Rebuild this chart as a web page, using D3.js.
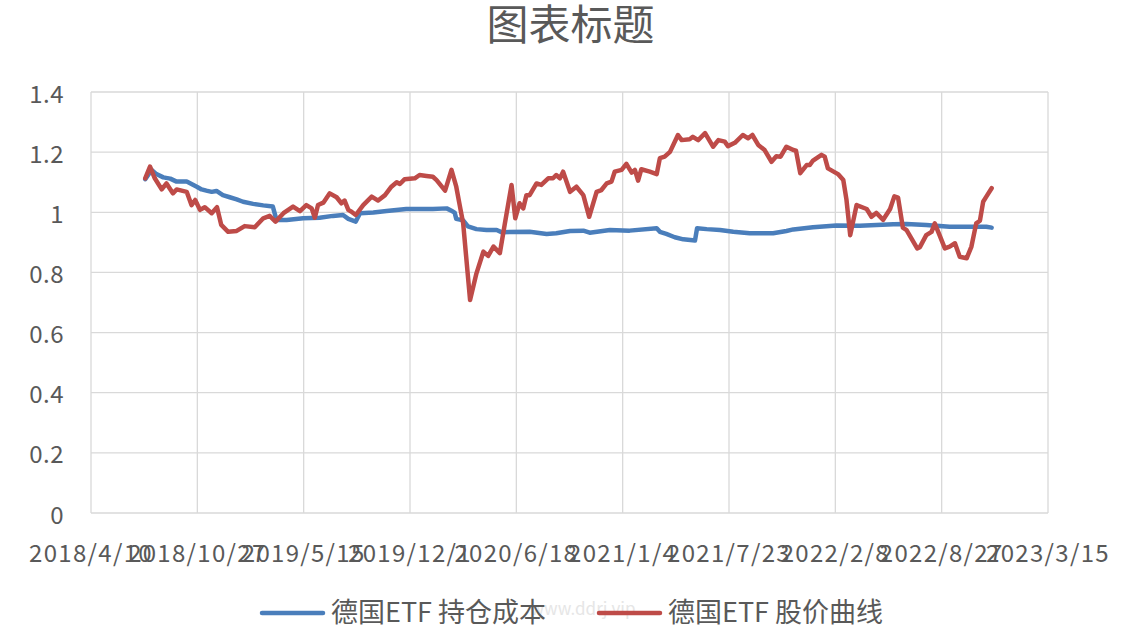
<!DOCTYPE html>
<html>
<head>
<meta charset="utf-8">
<script src="https://cdn.jsdelivr.net/npm/d3@7"></script>
<style>
  html, body { margin: 0; padding: 0; background: #fff; }
  svg { display: block; }
</style>
</head>
<body>
<svg id="chart" width="1142" height="629"></svg>
<script>
const title = "图表标题";
const seriesNames = ["德国ETF 持仓成本", "德国ETF 股价曲线"];
const xTickLabels = ["2018/4/10","2018/10/27","2019/5/15","2019/12/1","2020/6/18","2021/1/4","2021/7/23","2022/2/8","2022/8/27","2023/3/15"];
const yTickValues = [0, 0.2, 0.4, 0.6, 0.8, 1, 1.2, 1.4];

const costDates = ["2018-07-21","2018-08-02","2018-08-11","2018-08-24","2018-09-06","2018-09-18","2018-10-07","2018-10-26","2018-11-04","2018-11-13","2018-11-23","2018-12-02","2018-12-14","2018-12-27","2019-01-09","2019-01-21","2019-02-09","2019-02-28","2019-03-18","2019-03-25","2019-04-13","2019-05-14","2019-06-14","2019-07-09","2019-07-28","2019-08-07","2019-08-21","2019-08-29","2019-09-23","2019-10-18","2019-11-24","2020-01-13","2020-02-08","2020-02-17","2020-02-23","2020-02-26","2020-03-10","2020-03-19","2020-04-04","2020-04-23","2020-05-12","2020-05-21","2020-07-13","2020-08-14","2020-09-01","2020-09-27","2020-10-22","2020-11-03","2020-12-11","2021-01-17","2021-03-09","2021-03-15","2021-03-27","2021-04-12","2021-04-28","2021-05-20","2021-05-24","2021-06-11","2021-07-06","2021-07-31","2021-08-31","2021-10-14","2021-11-08","2021-11-21","2021-12-28","2022-02-10","2022-03-26","2022-05-28","2022-06-22","2022-07-29","2022-09-11","2022-11-19","2022-11-29"];
const costValues = [1.110,1.141,1.127,1.116,1.112,1.102,1.102,1.085,1.076,1.072,1.068,1.071,1.057,1.050,1.043,1.035,1.028,1.023,1.019,0.974,0.974,0.980,0.982,0.988,0.991,0.978,0.969,0.997,0.999,1.004,1.011,1.011,1.013,1.005,0.999,0.978,0.973,0.953,0.944,0.941,0.941,0.934,0.935,0.928,0.930,0.938,0.939,0.932,0.941,0.939,0.947,0.935,0.928,0.917,0.910,0.906,0.947,0.944,0.941,0.935,0.930,0.930,0.938,0.943,0.950,0.956,0.955,0.960,0.961,0.958,0.952,0.952,0.949];

const priceDates = ["2018-07-21","2018-07-30","2018-08-08","2018-08-21","2018-08-30","2018-09-11","2018-09-18","2018-10-07","2018-10-16","2018-10-23","2018-11-01","2018-11-10","2018-11-23","2018-12-03","2018-12-11","2018-12-24","2019-01-09","2019-01-24","2019-02-12","2019-02-28","2019-03-12","2019-03-23","2019-04-07","2019-04-25","2019-05-08","2019-05-20","2019-05-30","2019-06-05","2019-06-11","2019-06-21","2019-07-03","2019-07-16","2019-07-25","2019-07-31","2019-08-07","2019-08-13","2019-08-21","2019-09-04","2019-09-20","2019-10-02","2019-10-15","2019-10-27","2019-11-06","2019-11-12","2019-11-21","2019-12-10","2019-12-19","2020-01-01","2020-01-13","2020-01-20","2020-02-05","2020-02-17","2020-02-26","2020-03-04","2020-03-10","2020-03-23","2020-04-04","2020-04-17","2020-04-26","2020-05-06","2020-05-18","2020-05-27","2020-06-09","2020-06-16","2020-06-24","2020-07-01","2020-07-07","2020-07-13","2020-07-26","2020-08-04","2020-08-17","2020-08-26","2020-09-01","2020-09-08","2020-09-14","2020-09-27","2020-10-09","2020-10-22","2020-11-02","2020-11-16","2020-11-25","2020-12-05","2020-12-14","2020-12-20","2021-01-02","2021-01-11","2021-01-21","2021-01-27","2021-02-02","2021-02-08","2021-02-24","2021-03-09","2021-03-15","2021-03-24","2021-04-03","2021-04-18","2021-04-25","2021-05-10","2021-05-16","2021-05-26","2021-06-08","2021-06-23","2021-07-03","2021-07-15","2021-07-21","2021-08-03","2021-08-18","2021-08-28","2021-09-05","2021-09-16","2021-09-28","2021-10-11","2021-10-20","2021-10-28","2021-11-08","2021-11-21","2021-11-26","2021-12-04","2021-12-16","2021-12-22","2021-12-28","2022-01-13","2022-01-19","2022-01-25","2022-02-13","2022-02-23","2022-03-01","2022-03-08","2022-03-20","2022-04-08","2022-04-17","2022-04-26","2022-05-09","2022-05-22","2022-05-30","2022-06-06","2022-06-15","2022-06-22","2022-07-12","2022-07-17","2022-07-29","2022-08-08","2022-08-14","2022-08-23","2022-09-02","2022-09-11","2022-09-21","2022-09-30","2022-10-13","2022-10-22","2022-10-31","2022-11-07","2022-11-13","2022-11-19","2022-11-29"];
const priceValues = [1.113,1.152,1.113,1.076,1.096,1.063,1.076,1.068,1.024,1.041,1.008,1.017,0.997,1.017,0.958,0.935,0.938,0.954,0.950,0.980,0.988,0.969,0.997,1.019,1.004,1.024,1.013,0.982,1.024,1.032,1.063,1.050,1.030,1.039,1.008,1.002,0.991,1.024,1.052,1.039,1.057,1.085,1.100,1.094,1.110,1.113,1.124,1.121,1.118,1.107,1.072,1.141,1.085,1.019,0.963,0.708,0.797,0.869,0.855,0.886,0.864,0.958,1.091,0.980,1.030,1.013,1.057,1.057,1.096,1.091,1.113,1.113,1.124,1.113,1.135,1.068,1.085,1.057,0.985,1.068,1.074,1.096,1.102,1.135,1.141,1.161,1.132,1.141,1.105,1.143,1.135,1.127,1.180,1.185,1.201,1.257,1.240,1.243,1.251,1.240,1.263,1.218,1.240,1.235,1.220,1.231,1.257,1.246,1.257,1.224,1.207,1.168,1.186,1.185,1.218,1.207,1.205,1.130,1.157,1.157,1.172,1.191,1.185,1.146,1.127,1.107,1.041,0.924,1.024,1.011,0.985,0.998,0.975,1.011,1.053,1.049,0.949,0.941,0.880,0.884,0.924,0.935,0.963,0.924,0.880,0.886,0.897,0.852,0.847,0.886,0.963,0.972,1.035,1.052,1.080];

const colors = ["#4a7ebb", "#be4b48"];
const textColor = "#595959";
const gridColor = "#d9d9d9";
const fontFam = "'Noto Sans CJK SC', 'Noto Sans', sans-serif";

const svg = d3.select("#chart");
const plot = { left: 91, right: 1048, top: 92, bottom: 513 };

const parseTick = d3.timeParse("%Y/%m/%d");
const parseISO = d3.timeParse("%Y-%m-%d");
const tickDates = xTickLabels.map(parseTick);

const x = d3.scaleTime()
  .domain([tickDates[0], tickDates[tickDates.length - 1]])
  .range([plot.left, plot.right]);
const y = d3.scaleLinear().domain([0, 1.4]).range([plot.bottom, plot.top]);

// horizontal gridlines
svg.append("g").selectAll("line").data(yTickValues).join("line")
  .attr("x1", plot.left).attr("x2", plot.right)
  .attr("y1", d => y(d)).attr("y2", d => y(d))
  .attr("stroke", gridColor).attr("stroke-width", 1.3);

// vertical gridlines
svg.append("g").selectAll("line").data(tickDates).join("line")
  .attr("x1", d => x(d)).attr("x2", d => x(d))
  .attr("y1", plot.top).attr("y2", plot.bottom)
  .attr("stroke", gridColor).attr("stroke-width", 1.3);

// y axis labels
const yFmt = d => (d === 0 ? "0" : d3.format("~g")(+d.toFixed(1)));
svg.append("g").selectAll("text").data(yTickValues).join("text")
  .attr("x", 64).attr("y", d => y(d))
  .attr("text-anchor", "end").attr("dominant-baseline", "central")
  .attr("font-family", fontFam).attr("font-size", 24)
  .attr("letter-spacing", 0.5)
  .attr("fill", textColor)
  .text(yFmt);

// x axis labels
svg.append("g").selectAll("text").data(tickDates).join("text")
  .attr("x", d => x(d)).attr("y", 551)
  .attr("text-anchor", "middle").attr("dominant-baseline", "central")
  .attr("font-family", fontFam).attr("font-size", 24)
  .attr("letter-spacing", 1.3)
  .attr("fill", textColor)
  .text((d, i) => xTickLabels[i]);

// lines
const line = d3.line().x(d => x(d.date)).y(d => y(d.value));
const costData = costDates.map((d, i) => ({ date: parseISO(d), value: costValues[i] }));
const priceData = priceDates.map((d, i) => ({ date: parseISO(d), value: priceValues[i] }));

[costData, priceData].forEach((data, i) => {
  svg.append("path").datum(data)
    .attr("d", line)
    .attr("fill", "none")
    .attr("stroke", colors[i])
    .attr("stroke-width", 4.5)
    .attr("stroke-linejoin", "round")
    .attr("stroke-linecap", "round");
});

// title
svg.append("text")
  .attr("x", (plot.left + plot.right) / 2 + 1).attr("y", 21)
  .attr("text-anchor", "middle").attr("dominant-baseline", "central")
  .attr("font-family", fontFam).attr("font-size", 42)
  .attr("fill", textColor)
  .text(title);

// watermark
svg.append("text")
  .attr("x", 583).attr("y", 615)
  .attr("text-anchor", "middle")
  .attr("font-family", fontFam).attr("font-size", 17)
  .attr("fill", "#e6e6e6")
  .text("www.ddrj.vip");

// legend
const legendItems = [
  { x1: 262, x2: 323, tx: 331 },
  { x1: 599, x2: 660, tx: 668 }
];
const lg = svg.append("g");
legendItems.forEach((it, i) => {
  lg.append("line")
    .attr("x1", it.x1).attr("x2", it.x2)
    .attr("y1", 613).attr("y2", 613)
    .attr("stroke", colors[i]).attr("stroke-width", 4.5)
    .attr("stroke-linecap", "round");
  lg.append("text")
    .attr("x", it.tx).attr("y", 622)
    .attr("font-family", fontFam).attr("font-size", 27)
    .attr("fill", textColor)
    .text(seriesNames[i]);
});
</script>
</body>
</html>
